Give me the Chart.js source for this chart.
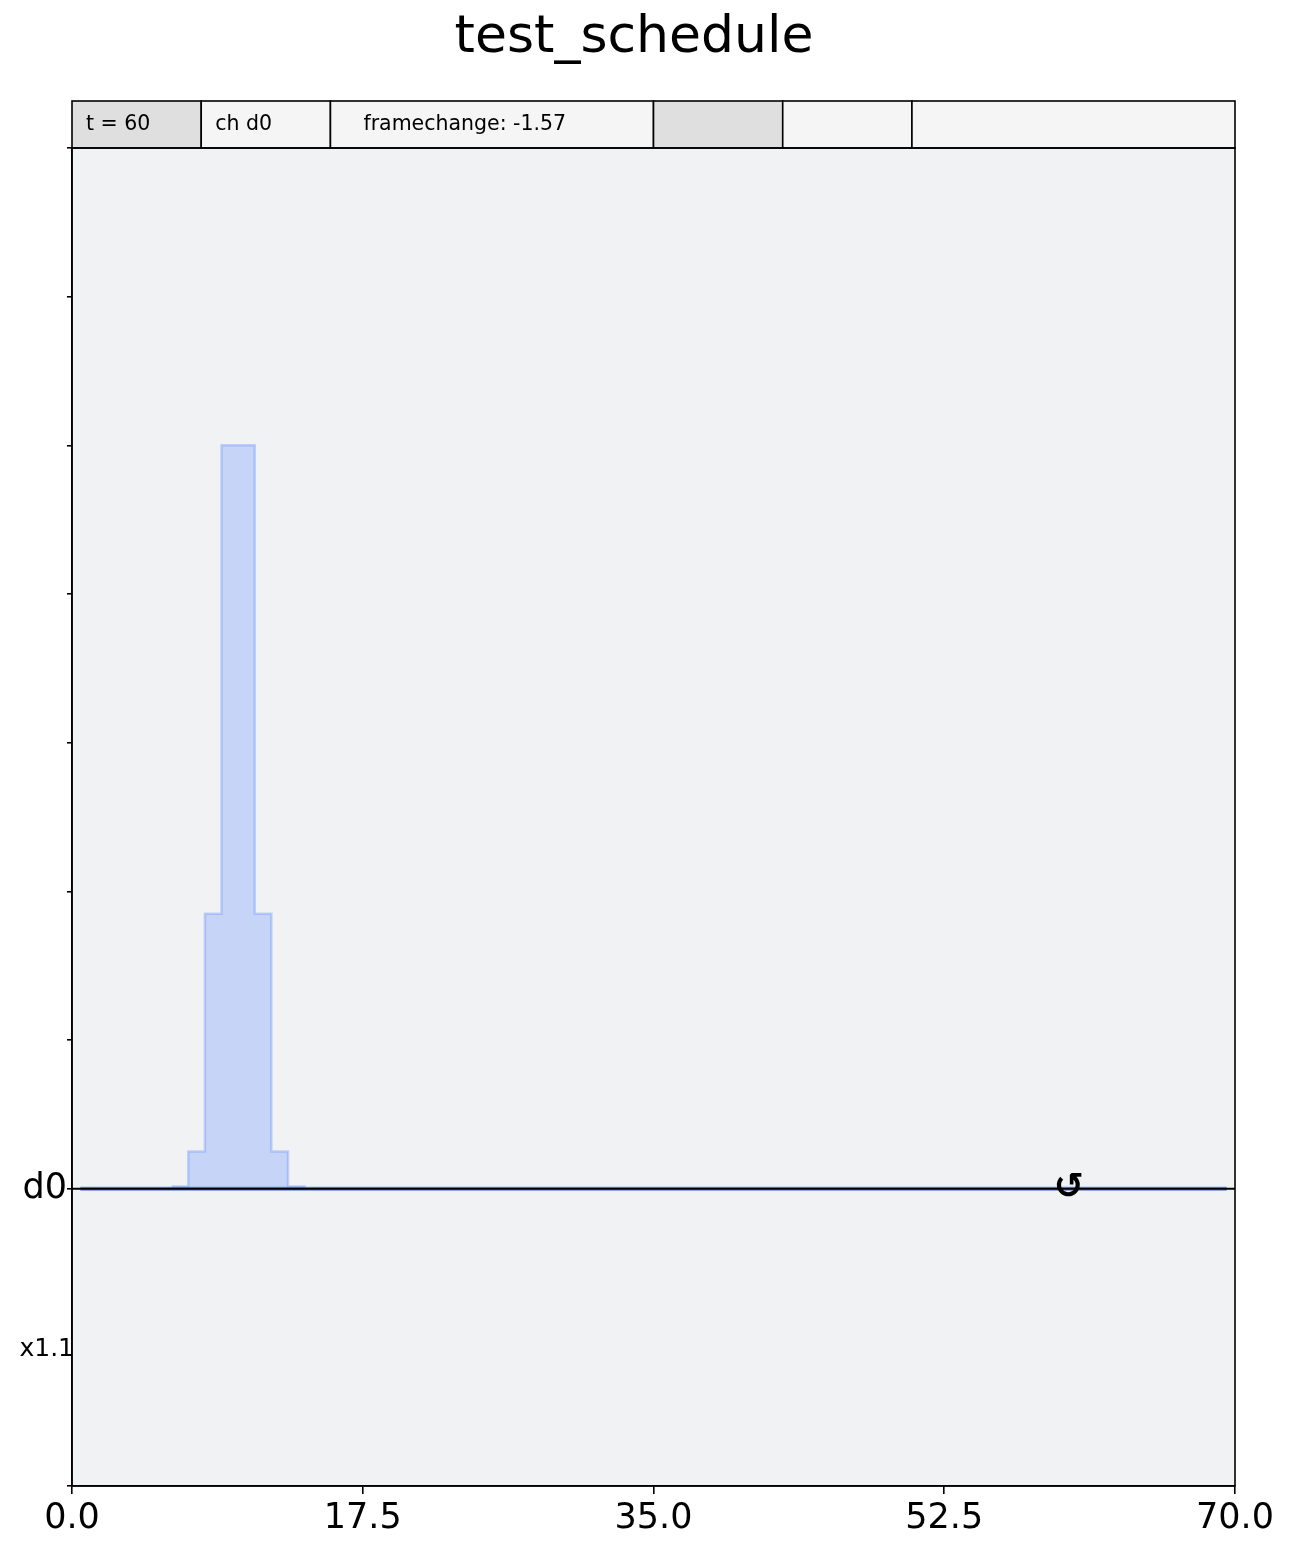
<!DOCTYPE html>
<html>
<head>
<meta charset="utf-8">
<title>test_schedule</title>
<script src="https://cdn.jsdelivr.net/npm/chart.js@4/dist/chart.umd.min.js"></script>
<style>
  html, body { margin: 0; padding: 0; background: #ffffff; }
  #wrap { width: 1291px; height: 1553px; position: relative; }
</style>
</head>
<body>
<div id="wrap"><canvas id="scheduleChart"></canvas></div>
<script>
// Waveform samples on channel d0 (step drawn: each value holds until the next time)
const sampleTimes = [6, 7, 8, 9, 10, 11, 12, 13, 14];
const sampleAmps = [0.015, 0.25, 1.85, 5.0, 5.0, 1.85, 0.25, 0.015, 0];

// zero line of the waveform, and the channel baseline
const waveZeroTimes = [0.5, 69.5];
const baselineTimes = [0, 70];

// frame change instruction
const frameChangeTimes = [60];
const frameChangeSymbol = '\u21BA';

// axes
const xTickValues = [0, 17.5, 35, 52.5, 70];
const yTickValues = [-2, 0, 1, 2, 3, 4, 5, 6, 7];
const channelNames = ['d0'];
const channelLevels = [0];
const scaleLabels = ['x1.1'];
const scaleLabelLevels = [-1.08];

// info table above the plot
const headerTexts = ['t = 60', 'ch d0', 'framechange: -1.57', '', '', ''];
const headerWidths = [1, 1, 2.5, 1, 1, 2.5];
const headerFills = ['#dfdfdf', '#f5f5f5', '#f5f5f5', '#dfdfdf', '#f5f5f5', '#f5f5f5'];
const headerIndent = [14, 14, 33, 14, 14, 14];

const FONT = '"DejaVu Sans", "Liberation Sans", sans-serif';

function toPoints(xs, ys) {
    return xs.map((x, i) => ({ x: x, y: ys[i] }));
}

// background of the plot, the title, the table and the frame
const decorPlugin = {
    id: 'decor',
    beforeDraw(chart) {
        const { ctx, chartArea } = chart;
        ctx.save();
        ctx.fillStyle = '#f1f2f4';
        ctx.fillRect(chartArea.left, chartArea.top, chartArea.right - chartArea.left, chartArea.bottom - chartArea.top);
        ctx.restore();
    },
    afterDraw(chart) {
        const { ctx, chartArea } = chart;
        const xs = chart.scales.x;
        const ys = chart.scales.y;
        const w = chartArea.right - chartArea.left;

        ctx.save();
        // title
        ctx.fillStyle = '#000';
        ctx.font = '52px ' + FONT;
        ctx.textAlign = 'center';
        ctx.textBaseline = 'middle';
        ctx.fillText('test_schedule', 634, 38);

        // table
        const top = 101, bottom = chartArea.top;
        const total = headerWidths.reduce((a, b) => a + b, 0);
        let left = chartArea.left;
        ctx.lineWidth = 1.6;
        ctx.strokeStyle = '#000';
        ctx.font = '20.5px ' + FONT;
        ctx.textAlign = 'left';
        headerWidths.forEach((hw, i) => {
            const cw = w * hw / total;
            ctx.fillStyle = headerFills[i];
            ctx.fillRect(left, top, cw, bottom - top);
            ctx.strokeRect(left, top, cw, bottom - top);
            if (headerTexts[i]) {
                ctx.fillStyle = '#000';
                ctx.fillText(headerTexts[i], left + headerIndent[i], (top + bottom) / 2);
            }
            left += cw;
        });

        // frame change symbols
        ctx.font = 'bold 36px ' + FONT;
        ctx.textAlign = 'center';
        ctx.fillStyle = '#000';
        frameChangeTimes.forEach((t) => {
            ctx.fillText(frameChangeSymbol, xs.getPixelForValue(t), ys.getPixelForValue(channelLevels[0]));
        });

        // channel scale labels
        ctx.font = '25px ' + FONT;
        ctx.textAlign = 'right';
        scaleLabels.forEach((s, i) => {
            ctx.fillText(s, chartArea.left + 2, ys.getPixelForValue(scaleLabelLevels[i]));
        });

        // frame around the plot
        ctx.lineWidth = 1.6;
        ctx.strokeRect(chartArea.left, chartArea.top, w, chartArea.bottom - chartArea.top);
        ctx.restore();
    }
};

class ScheduleChart {
    constructor(canvasId) {
        this.ctx = document.getElementById(canvasId).getContext('2d');
        this.build();
    }

    build() {
        this.chart = new Chart(this.ctx, {
            type: 'line',
            data: {
                datasets: [
                    {
                        label: 'baseline',
                        data: toPoints(baselineTimes, baselineTimes.map(() => channelLevels[0])),
                        borderColor: '#000000',
                        borderWidth: 2,
                        pointRadius: 0,
                        fill: false,
                        order: 0
                    },
                    {
                        label: 'zero',
                        data: toPoints(waveZeroTimes, waveZeroTimes.map(() => channelLevels[0])),
                        borderColor: 'rgba(80,110,200,0.75)',
                        borderWidth: 4,
                        pointRadius: 0,
                        fill: false,
                        order: 1
                    },
                    {
                        label: 'd0 waveform',
                        data: toPoints(sampleTimes, sampleAmps),
                        stepped: 'before',
                        borderColor: 'rgba(100,143,255,0.35)',
                        borderWidth: 2.5,
                        backgroundColor: 'rgba(100,143,255,0.3)',
                        fill: 'origin',
                        pointRadius: 0,
                        order: 2
                    }
                ]
            },
            options: {
                responsive: false,
                animation: false,
                devicePixelRatio: 1,
                layout: { padding: { top: 148, right: 56, left: 0, bottom: 0 } },
                plugins: {
                    legend: { display: false },
                    tooltip: { enabled: false },
                    title: { display: false }
                },
                scales: {
                    x: {
                        type: 'linear',
                        min: 0,
                        max: 70,
                        afterBuildTicks: (axis) => { axis.ticks = xTickValues.map(v => ({ value: v })); },
                        afterFit: (axis) => { axis.height = 67; },
                        ticks: {
                            color: '#000',
                            font: { family: FONT, size: 35 },
                            padding: 4,
                            maxRotation: 0,
                            callback: (v) => Number(v).toFixed(1)
                        },
                        grid: { drawOnChartArea: false, tickLength: 8, color: '#000', lineWidth: 1.6 },
                        border: { display: true, color: '#000', width: 1.6 }
                    },
                    y: {
                        type: 'linear',
                        min: -2,
                        max: 7,
                        afterBuildTicks: (axis) => { axis.ticks = yTickValues.map(v => ({ value: v })); },
                        afterFit: (axis) => { axis.width = 72; },
                        ticks: {
                            color: '#000',
                            font: { family: FONT, size: 35 },
                            padding: 0,
                            callback: (v) => {
                                const i = channelLevels.indexOf(v);
                                return i >= 0 ? channelNames[i] : '';
                            }
                        },
                        grid: { drawOnChartArea: false, tickLength: 5, color: '#000', lineWidth: 1.6 },
                        border: { display: true, color: '#000', width: 1.6 }
                    }
                }
            },
            plugins: [decorPlugin]
        });
    }
}

document.addEventListener('DOMContentLoaded', () => {
    const canvas = document.getElementById('scheduleChart');
    canvas.width = 1291;
    canvas.height = 1553;
    const scheduleChart = new ScheduleChart('scheduleChart');
});
</script>
</body>
</html>
